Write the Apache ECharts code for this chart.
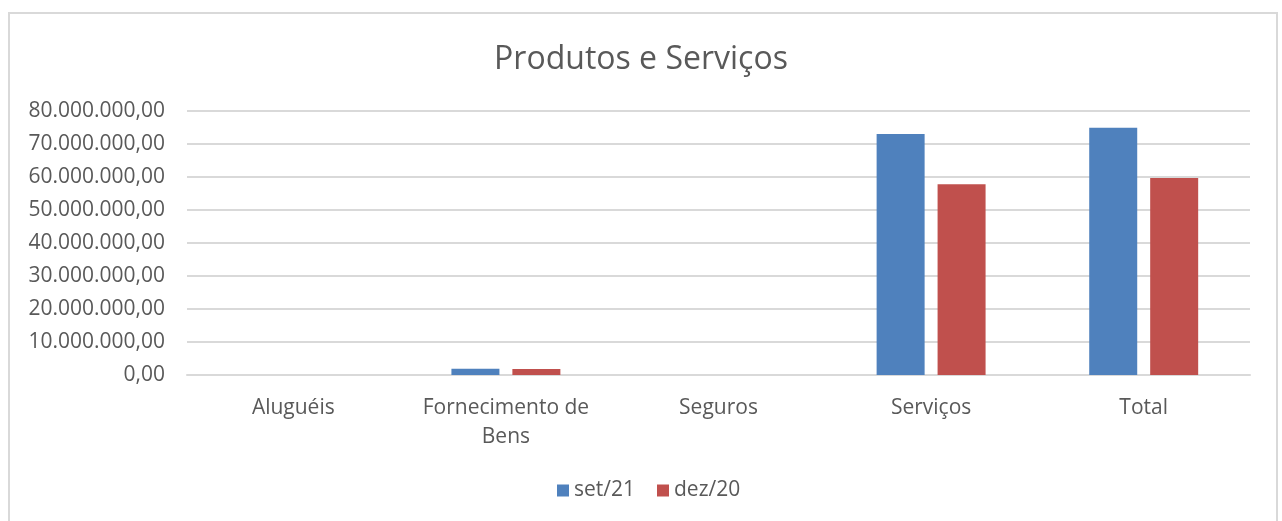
<!DOCTYPE html>
<html>
<head>
<meta charset="utf-8">
<title>Produtos e Serviços</title>
<script src="https://cdn.jsdelivr.net/npm/echarts@6/dist/echarts.min.js"></script>
<style>
  html, body { margin: 0; padding: 0; background: #fff; }
  #wrap { position: relative; width: 1282px; height: 521px; overflow: hidden; }
  #frame {
    position: absolute; left: 8px; top: 12px; width: 1270px; height: 540px;
    border: 2px solid #d9d9d9; box-sizing: border-box;
  }
  #chart { position: absolute; left: 0; top: 0; width: 1282px; height: 521px; }
</style>
</head>
<body>
<div id="wrap">
  <div id="frame"></div>
  <div id="chart"></div>
</div>
<script>
// categorias e valores (R$)
const categories = ["Aluguéis", "Fornecimento de\nBens", "Seguros", "Serviços", "Total"];
const set21 = [0, 1900000, 0, 73000000, 74900000];
const dez20 = [0, 1800000, 0, 57800000, 59700000];
const seriesNames = ["set/21", "dez/20"];

const textColor = "#595959";
const fontFamily = "'Open Sans', 'Noto Sans', sans-serif";

// formato pt-BR: 80.000.000,00
function fmtBR(v) {
  const parts = Number(v).toFixed(2).split(".");
  parts[0] = parts[0].replace(/\B(?=(\d{3})+(?!\d))/g, ".");
  return parts.join(",");
}

const chart = echarts.init(document.getElementById("chart"), null, { renderer: "canvas" });

chart.setOption({
  backgroundColor: "transparent",
  animation: false,
  title: {
    text: "Produtos e Serviços",
    left: "center",
    top: 39,
    textStyle: { color: textColor, fontSize: 32, fontWeight: "normal", fontFamily: fontFamily }
  },
  legend: {
    data: seriesNames,
    top: 475,
    left: 552,
    itemWidth: 12,
    itemHeight: 12,
    itemGap: 22,
    icon: "rect",
    textStyle: { color: textColor, fontSize: 21, fontFamily: fontFamily }
  },
  grid: { left: 187, right: 32, top: 111, bottom: 146, containLabel: false },
  xAxis: {
    type: "category",
    data: categories,
    axisLine: { show: true, lineStyle: { color: "#d9d9d9", width: 2 } },
    axisTick: { show: false },
    axisLabel: {
      color: textColor, fontSize: 21, fontFamily: fontFamily,
      lineHeight: 29, margin: 19, interval: 0
    }
  },
  yAxis: {
    type: "value",
    min: 0,
    max: 80000000,
    interval: 10000000,
    axisLine: { show: false },
    axisTick: { show: false },
    splitLine: { lineStyle: { color: "#d9d9d9", width: 2 } },
    axisLabel: {
      color: textColor, fontSize: 21, fontFamily: fontFamily, margin: 22,
      formatter: fmtBR
    }
  },
  series: [
    {
      name: seriesNames[0],
      type: "bar",
      data: set21,
      barWidth: 48,
      barGap: "27%",
      itemStyle: { color: "#4f81bd" }
    },
    {
      name: seriesNames[1],
      type: "bar",
      data: dez20,
      barWidth: 48,
      itemStyle: { color: "#c0504d" }
    }
  ]
});
</script>
</body>
</html>
